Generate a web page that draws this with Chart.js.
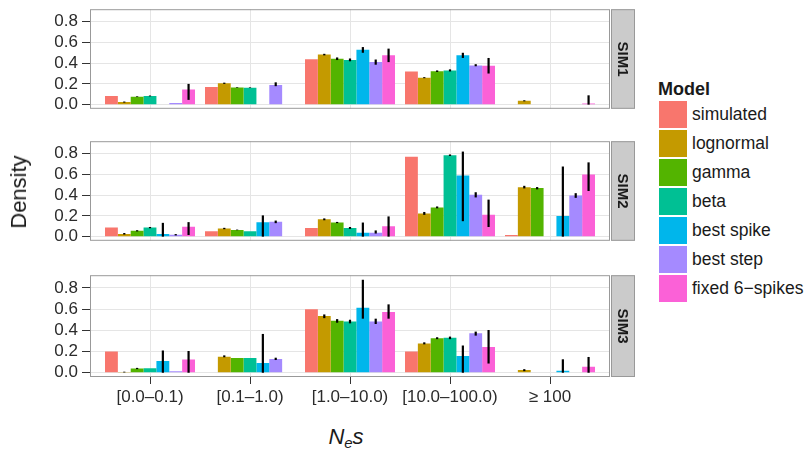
<!DOCTYPE html>
<html>
<head>
<meta charset="utf-8">
<script src="https://cdn.jsdelivr.net/npm/chart.js@4.4.1/dist/chart.umd.min.js"></script>
<style>
  body { margin: 0; background: #fff; width: 808px; height: 452px; position: relative; overflow: hidden;
         font-family: "Liberation Sans", Arial, sans-serif; color: #1a1a1a; }
  .panel { position: absolute; left: 0; }
  #ylab { position: absolute; left: 19px; top: 192px; font-size: 22px; transform: translate(-50%, -50%) rotate(-90deg); white-space: nowrap; }
  #xlab { position: absolute; left: 346px; top: 437px; font-size: 22px; font-style: italic; transform: translate(-50%, -50%); white-space: nowrap; }
  #xlab sub { font-size: 15px; vertical-align: -4px; }
  #legend { position: absolute; left: 658px; top: 79px; }
  #legend .title { font-weight: bold; font-size: 18px; height: 21px; }
  #legend .row { display: flex; align-items: center; height: 29px; }
  #legend .key { width: 30px; height: 29px; box-sizing: border-box; border: 1px solid #fff; }
  #legend .lbl { font-size: 17.5px; margin-left: 4px; white-space: nowrap; }
</style>
</head>
<body>
<div class="panel" style="top:-5px"><canvas id="sim1" width="640" height="128"></canvas></div>
<div class="panel" style="top:127px"><canvas id="sim2" width="640" height="128"></canvas></div>
<div class="panel" style="top:261px"><canvas id="sim3" width="640" height="150"></canvas></div>
<div id="ylab">Density</div>
<div id="xlab">N<sub>e</sub>s</div>
<div id="legend"></div>
<script>
// categories of N_e s and the models (fill order)
const CATEGORIES = ['[0.0\u20130.1)', '[0.1\u20131.0)', '[1.0\u201310.0)', '[10.0\u2013100.0)', '\u2265 100'];
const MODELS = ['simulated', 'lognormal', 'gamma', 'beta', 'best spike', 'best step', 'fixed 6\u2212spikes'];
const COLORS = ['#F8766D', '#C49A00', '#53B400', '#00C094', '#00B6EB', '#A58AFF', '#FB61D7'];
const Y_TICKS = [0, 0.1, 0.2, 0.3, 0.4, 0.5, 0.6, 0.7, 0.8, 0.9];

// one row per model, one column per category
const SIM1_VALUES = [
  [0.083, 0.17, 0.437, 0.32, 0],
  [0.025, 0.206, 0.483, 0.26, 0.037],
  [0.077, 0.166, 0.443, 0.323, 0.003],
  [0.083, 0.163, 0.43, 0.33, 0],
  [0, 0, 0.53, 0.477, 0],
  [0.015, 0.19, 0.41, 0.378, 0],
  [0.145, 0, 0.477, 0.375, 0.012]
];
const SIM1_ERR_LO = [
  [null, null, null, null, null],
  [0.02, 0.2, 0.475, 0.255, 0.032],
  [0.073, 0.162, 0.43, 0.315, null],
  [0.08, 0.16, 0.418, 0.32, null],
  [null, null, 0.5, 0.45, null],
  [null, 0.178, 0.385, 0.37, null],
  [0.046, null, 0.41, 0.3, 0]
];
const SIM1_ERR_HI = [
  [null, null, null, null, null],
  [0.03, 0.212, 0.49, 0.265, 0.042],
  [0.08, 0.168, 0.455, 0.33, null],
  [0.088, 0.166, 0.445, 0.34, null],
  [null, null, 0.555, 0.5, null],
  [null, 0.215, 0.435, 0.39, null],
  [0.2, null, 0.54, 0.45, 0.09]
];

const SIM2_VALUES = [
  [0.087, 0.053, 0.084, 0.77, 0.016],
  [0.025, 0.078, 0.167, 0.223, 0.477],
  [0.056, 0.065, 0.136, 0.282, 0.468],
  [0.087, 0.053, 0.084, 0.785, 0],
  [0.025, 0.14, 0.037, 0.59, 0.198],
  [0.019, 0.143, 0.037, 0.403, 0.397],
  [0.096, 0, 0.1, 0.21, 0.6]
];
const SIM2_ERR_LO = [
  [null, null, null, null, null],
  [0.02, 0.072, 0.158, 0.21, 0.465],
  [0.05, 0.062, 0.13, 0.273, 0.456],
  [0.081, null, 0.075, 0.778, null],
  [0, 0, 0, 0.149, 0],
  [0.012, 0.13, 0.03, 0.378, 0.374],
  [0.016, null, 0, 0.093, 0.44]
];
const SIM2_ERR_HI = [
  [null, null, null, null, null],
  [0.035, 0.085, 0.176, 0.238, 0.49],
  [0.062, 0.068, 0.142, 0.291, 0.478],
  [0.093, null, 0.093, 0.792, null],
  [0.133, 0.205, 0.136, 0.82, 0.676],
  [0.025, 0.155, 0.06, 0.428, 0.419],
  [0.14, null, 0.195, 0.357, 0.716]
];

const SIM3_VALUES = [
  [0.2, 0, 0.598, 0.2, 0],
  [0.006, 0.152, 0.536, 0.276, 0.025],
  [0.04, 0.14, 0.49, 0.326, 0],
  [0.043, 0.14, 0.484, 0.329, 0],
  [0.11, 0.093, 0.614, 0.158, 0.02],
  [0.015, 0.13, 0.484, 0.372, 0],
  [0.124, 0, 0.574, 0.242, 0.056]
];
const SIM3_ERR_LO = [
  [null, null, null, null, null],
  [0.003, 0.146, 0.515, 0.268, 0.015],
  [0.034, null, 0.472, 0.317, null],
  [null, null, 0.466, 0.317, null],
  [0, 0, 0.51, 0, 0],
  [null, 0.12, 0.46, 0.35, null],
  [0, null, 0.51, 0.087, 0]
];
const SIM3_ERR_HI = [
  [null, null, null, null, null],
  [0.01, 0.164, 0.55, 0.287, 0.034],
  [0.046, null, 0.506, 0.335, null],
  [null, null, 0.5, 0.341, null],
  [0.21, 0.366, 0.877, 0.257, 0.127],
  [null, 0.142, 0.51, 0.388, null],
  [0.205, null, 0.645, 0.403, 0.149]
];

Chart.defaults.font.family = '"Liberation Sans", Arial, sans-serif';
Chart.defaults.color = '#2b2b2b';

// vertical error bars drawn through the y scale
const errorBars = {
  id: 'errorBars',
  afterDatasetsDraw(chart) {
    const ctx = chart.ctx, y = chart.scales.y;
    ctx.save();
    ctx.strokeStyle = '#000';
    ctx.lineWidth = 2.2;
    chart.data.datasets.forEach((ds, i) => {
      chart.getDatasetMeta(i).data.forEach((bar, j) => {
        const lo = ds.errLo[j], hi = ds.errHi[j];
        if (lo == null) return;
        ctx.beginPath();
        ctx.moveTo(bar.x, y.getPixelForValue(lo));
        ctx.lineTo(bar.x, y.getPixelForValue(hi));
        ctx.stroke();
      });
    });
    ctx.restore();
  }
};

// panel border + facet strip on the right
const frame = {
  id: 'frame',
  afterDraw(chart, args, opts) {
    const { ctx, chartArea: a } = chart;
    ctx.save();
    ctx.strokeStyle = '#999';
    ctx.lineWidth = 1;
    ctx.strokeRect(a.left + 0.5, a.top + 0.5, a.right - a.left - 1, a.bottom - a.top - 1);
    ctx.fillStyle = '#cbcbcb';
    ctx.fillRect(a.right + 1, a.top, 24, a.bottom - a.top);
    ctx.strokeRect(a.right + 1.5, a.top + 0.5, 23, a.bottom - a.top - 1);
    ctx.translate(a.right + 13, (a.top + a.bottom) / 2);
    ctx.rotate(Math.PI / 2);
    ctx.fillStyle = '#1a1a1a';
    ctx.font = 'bold 15px "Liberation Sans", Arial, sans-serif';
    ctx.textAlign = 'center';
    ctx.textBaseline = 'middle';
    ctx.fillText(opts.label, 0, 1);
    ctx.restore();
  }
};

function makePanel(id, label, values, errLo, errHi, showX) {
  const datasets = MODELS.map((m, k) => ({
    label: m,
    data: CATEGORIES.map((c, i) => ({ x: i + 1, y: values[k][i] })),
    errLo: errLo[k],
    errHi: errHi[k],
    backgroundColor: COLORS[k],
    borderWidth: 0,
    categoryPercentage: 0.9,
    barPercentage: 1.0
  }));
  new Chart(document.getElementById(id), {
    type: 'bar',
    data: { datasets },
    plugins: [errorBars, frame],
    options: {
      responsive: false,
      animation: false,
      devicePixelRatio: 1,
      layout: { padding: { top: 12, bottom: showX ? 4 : 12, right: 30, left: 0 } },
      plugins: { legend: { display: false }, tooltip: { enabled: false }, frame: { label } },
      scales: {
        x: {
          type: 'linear',
          min: 0.4,
          max: 5.6,
          offset: false,
          afterBuildTicks: s => { s.ticks = CATEGORIES.map((c, i) => ({ value: i + 1 })); },
          afterFit: s => { s.height = showX ? 30 : 0; },
          border: { display: false },
          grid: { offset: false, color: '#e5e5e5', drawTicks: showX, tickLength: 7, tickColor: '#333', tickWidth: 1 },
          ticks: {
            display: showX,
            autoSkip: false,
            maxRotation: 0,
            padding: 3,
            font: { size: 17 },
            callback: v => CATEGORIES[v - 1]
          }
        },
        y: {
          min: -0.04,
          max: 0.92,
          afterBuildTicks: s => { s.ticks = Y_TICKS.map(v => ({ value: v })); },
          afterFit: s => { s.width = 90; },
          border: { display: false },
          grid: {
            color: c => (c.index % 2 === 0 ? '#e5e5e5' : '#f3f3f3'),
            tickColor: c => (c.index % 2 === 0 ? '#333' : 'rgba(0,0,0,0)'),
            tickLength: 8,
            tickWidth: 1
          },
          ticks: {
            padding: 4,
            font: { size: 17 },
            callback: (v, i) => (i % 2 === 0 ? v.toFixed(1) : '')
          }
        }
      }
    }
  });
}

makePanel('sim1', 'SIM1', SIM1_VALUES, SIM1_ERR_LO, SIM1_ERR_HI, false);
makePanel('sim2', 'SIM2', SIM2_VALUES, SIM2_ERR_LO, SIM2_ERR_HI, false);
makePanel('sim3', 'SIM3', SIM3_VALUES, SIM3_ERR_LO, SIM3_ERR_HI, true);

// legend built from the model names and colours
const legend = document.getElementById('legend');
legend.innerHTML = '<div class="title">Model</div>' + MODELS.map((m, k) =>
  '<div class="row"><div class="key" style="background:' + COLORS[k] + '"></div><div class="lbl">' + m + '</div></div>'
).join('');
</script>
</body>
</html>
